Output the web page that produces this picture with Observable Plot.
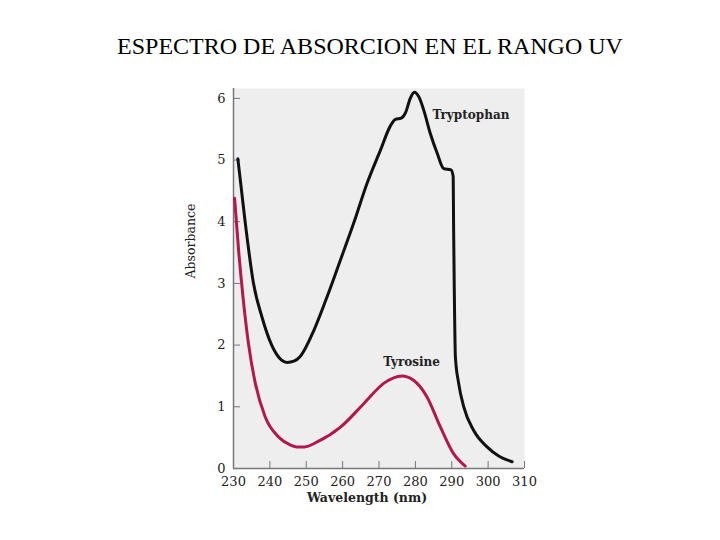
<!DOCTYPE html>
<html>
<head>
<meta charset="utf-8">
<script src="https://cdn.jsdelivr.net/npm/d3@7"></script>
<script src="https://cdn.jsdelivr.net/npm/@observablehq/plot@0.6"></script>
<style>
  html, body { margin: 0; padding: 0; background: #fff; }
  #wrap { position: relative; width: 720px; height: 540px; overflow: hidden; }
  #title { position: absolute; left: 0; width: 740px; top: 34px; text-align: center;
           font-family: "Liberation Serif", "Times New Roman", serif; font-size: 24px; line-height: 24px; color: #000; }
  #chart { position: absolute; left: 0; top: 60px; }
</style>
</head>
<body>
<div id="wrap">
  <div id="title">ESPECTRO DE ABSORCION EN EL RANGO UV</div>
  <div id="chart"></div>
</div>
<script>
// Tryptophan absorbance spectrum
const trpWavelength = [231.2, 233.2, 235.5, 237.8, 240.5, 242.5, 244.8, 246.6, 248.4, 252.1, 255.7, 259.4, 263.0, 266.7, 270.4, 273.1, 274.5, 276.1, 277.3, 278.6, 279.7, 281.0, 282.3, 284.1, 286.0, 287.8, 289.8, 290.4, 290.5, 290.7, 291.0, 291.9, 293.3, 296.0, 299.7, 303.0, 306.6];
const trpAbsorbance = [5.02, 4.0, 3.0, 2.46, 2.0, 1.8, 1.72, 1.74, 1.82, 2.24, 2.78, 3.38, 3.97, 4.62, 5.16, 5.55, 5.66, 5.68, 5.77, 6.0, 6.1, 6.02, 5.81, 5.43, 5.11, 4.86, 4.84, 4.73, 3.97, 2.89, 1.81, 1.38, 1.0, 0.62, 0.35, 0.2, 0.11];
// Tyrosine absorbance spectrum
const tyrWavelength = [230.3, 231.4, 232.7, 234.1, 236.0, 238.7, 242.4, 245.7, 247.4, 249.5, 253.0, 259.4, 265.8, 271.3, 276.3, 279.5, 283.2, 286.9, 290.5, 293.7];
const tyrAbsorbance = [4.38, 3.54, 2.73, 2.03, 1.38, 0.84, 0.51, 0.38, 0.35, 0.35, 0.43, 0.67, 1.05, 1.38, 1.50, 1.43, 1.16, 0.67, 0.24, 0.04];
// Curve labels
const curveNames = ["Tryptophan", "Tyrosine"];
const labelWavelength = [284.7, 271.2];
const labelAbsorbance = [5.73, 1.72];
// Axes
const xTicks = [230, 240, 250, 260, 270, 280, 290, 300, 310];
const yTicks = [0, 1, 2, 3, 4, 5, 6];
const xDomain = [230, 310];
const yDomain = [0, 6.16];

const trp = trpWavelength.map((w, i) => ({w, a: trpAbsorbance[i]}));
const tyr = tyrWavelength.map((w, i) => ({w, a: tyrAbsorbance[i]}));
const labels = curveNames.map((name, i) => ({name, w: labelWavelength[i], a: labelAbsorbance[i]}));

const serif = "DejaVu Serif, Liberation Serif, serif";

const chart = Plot.plot({
  width: 720,
  height: 470,
  marginLeft: 233,
  marginRight: 196,
  marginTop: 28,
  marginBottom: 62,
  style: {fontFamily: serif, fontSize: "13px", color: "#222", background: "transparent"},
  x: {domain: xDomain},
  y: {domain: yDomain},
  marks: [
    Plot.frame({fill: "#eeeeee", stroke: null}),
    Plot.axisX({ticks: xTicks, tickSize: -7, tickPadding: 15, stroke: "#777", label: null, fontSize: 13, tickFormat: d => String(d)}),
    Plot.axisY({ticks: yTicks, tickSize: -7, tickPadding: 15, stroke: "#777", label: null, fontSize: 13, tickFormat: d => String(d)}),
    Plot.ruleX([xDomain[0]], {stroke: "#777", strokeWidth: 1.5}),
    Plot.ruleY([yDomain[0]], {stroke: "#777", strokeWidth: 1.5}),
    Plot.line(tyr, {x: "w", y: "a", stroke: "#b3174f", strokeWidth: 3, curve: "monotone-x"}),
    Plot.line(trp, {x: "w", y: "a", stroke: "#111", strokeWidth: 3, curve: "monotone-x"}),
    Plot.text(labels, {x: "w", y: "a", text: "name", textAnchor: "start", fontWeight: "bold", fontSize: 12, fill: "#222"}),
    Plot.text(["Wavelength (nm)"], {frameAnchor: "bottom", dx: -12, dy: 33, fontWeight: "bold", fontSize: 12.5, fill: "#222"}),
    Plot.text(["Absorbance"], {frameAnchor: "left", dx: -43, rotate: -90, fontSize: 12.5, fill: "#222"})
  ]
});
document.getElementById("chart").appendChild(chart);
</script>
</body>
</html>
